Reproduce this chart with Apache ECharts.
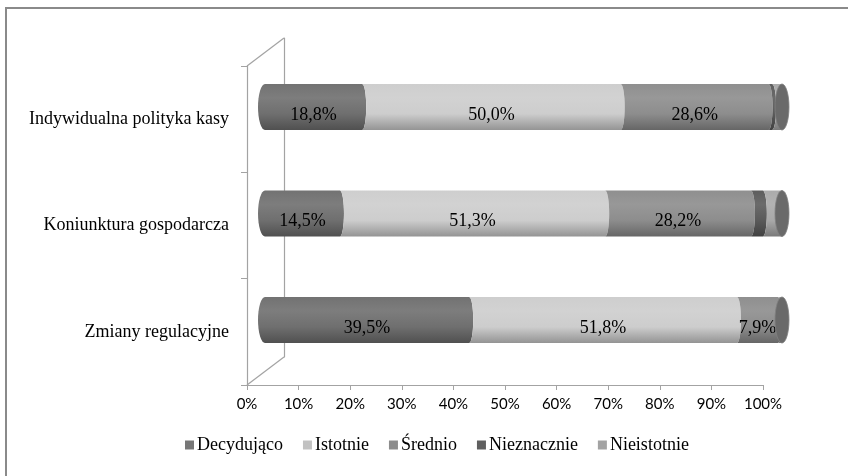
<!DOCTYPE html>
<html>
<head>
<meta charset="utf-8">
<script src="https://cdn.jsdelivr.net/npm/echarts@6/dist/echarts.min.js"></script>
<style>
  html, body { margin: 0; padding: 0; background: #ffffff; }
  #chart { width: 848px; height: 476px; }
</style>
</head>
<body>
<div id="chart"></div>
<script>
// ---- data ----
const categories = ['Indywidualna polityka kasy', 'Koniunktura gospodarcza', 'Zmiany regulacyjne'];
const seriesNames = ['Decydująco', 'Istotnie', 'Średnio', 'Nieznacznie', 'Nieistotnie'];
const decydujaco  = [18.8, 14.5, 39.5];
const istotnie    = [50.0, 51.3, 51.8];
const srednio     = [28.6, 28.2, 7.9];
const nieznacznie = [0.7, 2.3, 0.0];
const nieistotnie = [1.9, 3.7, 0.8];
const labelledSeries = [true, true, true, false, false];
const xTicks = { min: 0, max: 100, interval: 10 };

// ---- styling ----
const bodyColors   = ['#6f6f6f', '#cdcdcd', '#8d8d8d', '#5a5a5a', '#a9a9a9'];
const legendColors = ['#777777', '#c2c2c2', '#8c8c8c', '#5f5f5f', '#a3a3a3'];
const serif = 'Liberation Serif';
const axisGray = '#a3a3a3';

// front plane of the 3D box and its depth vector
const FRONT = { left: 247, right: 763, top: 66, bottom: 385 };
const DEPTH = { dx: 37, dy: -28 };
const W = 848, H = 476;

function shade(hex, amt) {
  const n = parseInt(hex.slice(1), 16);
  let r = (n >> 16) & 255, g = (n >> 8) & 255, b = n & 255;
  const f = c => Math.round(amt >= 0 ? c + (255 - c) * amt : c * (1 + amt));
  r = f(r); g = f(g); b = f(b);
  return '#' + ((1 << 24) + (r << 16) + (g << 8) + b).toString(16).slice(1);
}
function bodyGradient(hex) {
  return {
    type: 'linear', x: 0, y: 0, x2: 0, y2: 1,
    colorStops: [
      { offset: 0, color: shade(hex, 0.02) },
      { offset: 0.3, color: shade(hex, 0.1) },
      { offset: 0.65, color: hex },
      { offset: 1, color: shade(hex, -0.28) }
    ]
  };
}

const seriesValues = [decydujaco, istotnie, srednio, nieznacznie, nieistotnie];

// stacked start/end for every segment
const stacks = categories.map(() => 0);
const segmentData = seriesValues.map(vals => vals.map((v, ci) => {
  const s = stacks[ci];
  stacks[ci] += v;
  return [ci, s, s + v, v];
}));
const lastColorIdx = categories.map((_, ci) => {
  let idx = 0;
  seriesValues.forEach((vals, k) => { if (vals[ci] > 0) idx = k; });
  return idx;
});

const BAR_H = 46;
const CAP_RX = 7;
const EDGE_RX = 4;

function segmentRenderer(k) {
  return function (params, api) {
    const ci = api.value(0), start = api.value(1), end = api.value(2), v = api.value(3);
    if (!(v > 0)) return;
    const a = api.coord([start, ci]);
    const b = api.coord([end, ci]);
    const cy = a[1], yt = cy - BAR_H / 2, yb = cy + BAR_H / 2;
    const ry = BAR_H / 2;
    const leftRx = start === 0 ? CAP_RX : EDGE_RX;
    const rightRx = EDGE_RX;
    const back = start === 0 ? 1 : 0;
    const d = 'M' + a[0] + ' ' + yt + ' L' + b[0] + ' ' + yt +
      ' A' + rightRx + ' ' + ry + ' 0 0 1 ' + b[0] + ' ' + yb +
      ' L' + a[0] + ' ' + yb +
      ' A' + leftRx + ' ' + ry + ' 0 0 ' + back + ' ' + a[0] + ' ' + yt + ' Z';
    const children = [{
      type: 'path',
      shape: { pathData: d },
      style: { fill: bodyGradient(bodyColors[k]), stroke: null }
    }];
    if (labelledSeries[k]) {
      children.push({
        type: 'text',
        style: {
          text: v.toFixed(1).replace('.', ',') + '%',
          x: (a[0] + b[0]) / 2, y: cy + 8,
          align: 'center', verticalAlign: 'middle',
          font: '18px "' + serif + '"', fill: '#000000'
        },
        z2: 10
      });
    }
    return { type: 'group', children: children };
  };
}

function capRenderer(params, api) {
  const ci = api.value(0), total = api.value(1);
  const p = api.coord([total, ci]);
  const base = shade(bodyColors[lastColorIdx[ci]], -0.37);
  return {
    type: 'ellipse',
    shape: { cx: p[0], cy: p[1], rx: CAP_RX, ry: BAR_H / 2 },
    style: { fill: base, stroke: shade(base, 0.15), lineWidth: 0.8 }
  };
}

const series = seriesNames.map((name, k) => ({
  name: name,
  type: 'custom',
  xAxisIndex: 2, yAxisIndex: 2,
  itemStyle: { color: legendColors[k] },
  encode: { x: [1, 2], y: 0 },
  renderItem: segmentRenderer(k),
  data: segmentData[k],
  z: 3
}));
series.push({
  name: 'cap',
  type: 'custom',
  xAxisIndex: 2, yAxisIndex: 2,
  encode: { x: 1, y: 0 },
  renderItem: capRenderer,
  data: categories.map((_, ci) => [ci, stacks[ci]]),
  z: 4,
  silent: true
});

// mid-depth plane for the bars
const barLeft = 265, barRight = 782;
const barCenterTop = 107, barStep = 106.5;

const chart = echarts.init(document.getElementById('chart'), null, { renderer: 'canvas' });
chart.setOption({
  animation: false,
  backgroundColor: '#ffffff',
  legend: {
    data: seriesNames,
    top: 431,
    left: 180,
    icon: 'rect',
    itemWidth: 9, itemHeight: 9,
    itemGap: 20,
    textStyle: { fontFamily: serif, fontSize: 18, color: '#000000', padding: [0, 0, 0, -2] }
  },
  grid: [
    { left: FRONT.left, right: W - FRONT.right, top: FRONT.top, bottom: H - FRONT.bottom },
    { left: FRONT.left + DEPTH.dx, right: W - FRONT.right - DEPTH.dx, top: FRONT.top + DEPTH.dy, bottom: H - FRONT.bottom - DEPTH.dy },
    { left: barLeft, right: W - barRight, top: barCenterTop - barStep / 2, bottom: H - (barCenterTop + barStep * 2.5) }
  ],
  xAxis: [
    {
      gridIndex: 0, type: 'value', min: xTicks.min, max: xTicks.max, interval: xTicks.interval,
      axisLine: { show: true, lineStyle: { color: axisGray, width: 1.2 } },
      axisTick: { show: true, length: 5, lineStyle: { color: axisGray } },
      splitLine: { show: false },
      axisLabel: { formatter: '{value}%', fontFamily: 'Lato', fontSize: 15, color: '#000000', margin: 12 }
    },
    { gridIndex: 1, type: 'value', min: 0, max: 100, show: false },
    { gridIndex: 2, type: 'value', min: 0, max: 100, show: false }
  ],
  yAxis: [
    {
      gridIndex: 0, type: 'category', inverse: true, data: categories,
      axisLine: { show: true, lineStyle: { color: axisGray, width: 1.2 } },
      axisTick: { show: true, length: 6, lineStyle: { color: axisGray } },
      axisLabel: { fontFamily: serif, fontSize: 18, color: '#000000', margin: 18 }
    },
    {
      gridIndex: 1, type: 'category', inverse: true, data: categories,
      axisLine: { show: true, lineStyle: { color: axisGray, width: 1.2 } },
      axisTick: { show: false }, axisLabel: { show: false }
    },
    { gridIndex: 2, type: 'category', inverse: true, data: categories, show: false }
  ],
  graphic: [
    {
      type: 'rect', shape: { x: 6, y: 8, width: W + 20, height: H + 20 },
      style: { fill: null, stroke: '#8a8a8a', lineWidth: 2 }, silent: true
    },
    {
      type: 'line',
      shape: { x1: FRONT.left, y1: FRONT.top, x2: FRONT.left + DEPTH.dx, y2: FRONT.top + DEPTH.dy },
      style: { stroke: axisGray, lineWidth: 1.2 }, silent: true
    },
    {
      type: 'line',
      shape: { x1: FRONT.left, y1: FRONT.bottom, x2: FRONT.left + DEPTH.dx, y2: FRONT.bottom + DEPTH.dy },
      style: { stroke: axisGray, lineWidth: 1.2 }, silent: true
    }
  ],
  series: series
});
</script>
</body>
</html>
